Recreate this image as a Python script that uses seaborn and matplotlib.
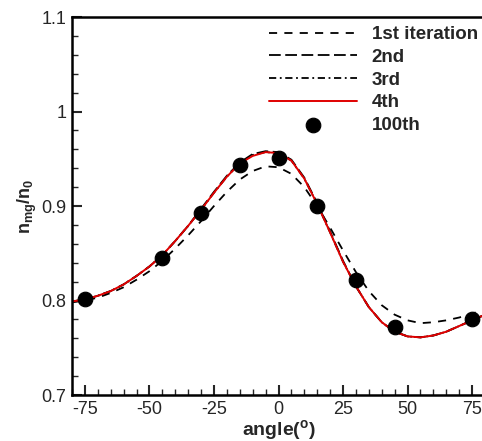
import numpy as np
import pandas as pd
import matplotlib
matplotlib.use("Agg")
import matplotlib.pyplot as plt
from matplotlib.ticker import MultipleLocator
import seaborn as sns

# curve samples, every 5 degrees
angle = [-80, -75, -70, -65, -60, -55, -50, -45, -40, -35, -30, -25, -20, -15, -10, -5,
         0, 5, 10, 15, 20, 25, 30, 35, 40, 45, 50, 55, 60, 65, 70, 75, 80]

iter1 = [0.798, 0.800, 0.803, 0.808, 0.814, 0.822, 0.831, 0.842, 0.855, 0.869, 0.884,
         0.900, 0.915, 0.928, 0.937, 0.942, 0.941, 0.934, 0.920, 0.900, 0.877, 0.853,
         0.830, 0.810, 0.795, 0.785, 0.779, 0.776, 0.777, 0.779, 0.782, 0.786, 0.791]
iter2 = [0.799, 0.801, 0.805, 0.810, 0.817, 0.826, 0.836, 0.848, 0.863, 0.879, 0.897,
         0.915, 0.932, 0.946, 0.955, 0.958, 0.957, 0.949, 0.930, 0.903, 0.873, 0.842,
         0.815, 0.793, 0.777, 0.767, 0.762, 0.761, 0.763, 0.767, 0.773, 0.779, 0.785]
iter3 = [0.799, 0.801, 0.805, 0.810, 0.817, 0.826, 0.836, 0.848, 0.863, 0.879, 0.896,
         0.914, 0.931, 0.945, 0.954, 0.957, 0.956, 0.948, 0.929, 0.902, 0.872, 0.841,
         0.815, 0.793, 0.777, 0.767, 0.762, 0.761, 0.763, 0.767, 0.773, 0.779, 0.785]
iter4 = [0.799, 0.801, 0.805, 0.810, 0.817, 0.826, 0.836, 0.848, 0.863, 0.879, 0.896,
         0.914, 0.931, 0.945, 0.953, 0.957, 0.956, 0.948, 0.929, 0.902, 0.872, 0.841,
         0.815, 0.793, 0.777, 0.767, 0.762, 0.761, 0.763, 0.767, 0.773, 0.779, 0.785]

# 100th iteration points
pt_angle = [-75, -45, -30, -15, 0, 15, 30, 45, 75]
pt_value = [0.802, 0.845, 0.893, 0.943, 0.951, 0.900, 0.822, 0.772, 0.780]

sns.set_style("white")
plt.rcParams['font.family'] = ['Liberation Sans', 'DejaVu Sans']
plt.rcParams['mathtext.fontset'] = 'custom'
plt.rcParams['mathtext.rm'] = 'Liberation Sans'
plt.rcParams['mathtext.bf'] = 'Liberation Sans:bold'
plt.rcParams['axes.unicode_minus'] = False

fig = plt.figure(figsize=(4.82, 4.41), dpi=100)
ax = fig.add_axes([72 / 482, 46 / 441, 413 / 482, 378 / 441])

df = pd.DataFrame({'angle': angle, 'i1': iter1, 'i2': iter2, 'i3': iter3, 'i4': iter4})
sns.lineplot(data=df, x='angle', y='i1', ax=ax, color='black', lw=1.3,
             linestyle=(0, (4.5, 4)), label='1st iteration')
sns.lineplot(data=df, x='angle', y='i2', ax=ax, color='black', lw=1.3,
             linestyle=(0, (6.5, 2.5)), label='2nd')
sns.lineplot(data=df, x='angle', y='i3', ax=ax, color='black', lw=1.3,
             linestyle=(0, (4, 2, 1, 2)), label='3rd')
sns.lineplot(data=df, x='angle', y='i4', ax=ax, color='#e00000', lw=1.4, label='4th')
sns.scatterplot(x=pt_angle, y=pt_value, ax=ax, color='black', s=110,
                edgecolor='black', zorder=5, label='100th')

ax.set_xlim(-80, 80)
ax.set_ylim(0.7, 1.1)
ax.xaxis.set_major_locator(MultipleLocator(25))
ax.xaxis.set_minor_locator(MultipleLocator(5))
ax.yaxis.set_minor_locator(MultipleLocator(0.02))
ax.set_yticks([0.7, 0.8, 0.9, 1.0, 1.1])
ax.set_yticklabels(['0.7', '0.8', '0.9', '1', '1.1'])
ax.tick_params(which='major', direction='in', length=7, width=1.5, labelsize=13,
               bottom=True, left=True, top=False, right=False, pad=4)
ax.tick_params(which='minor', direction='in', length=4, width=1,
               bottom=True, left=True, top=False, right=False)
for s in ax.spines.values():
    s.set_linewidth(1.8)
    s.set_color('black')

ax.set_xlabel(r'angle($\mathbf{^o}$)', fontsize=14, fontweight='bold', labelpad=0)
ax.set_ylabel(r'$\mathbf{n_{mg}/n_0}$', fontsize=13, labelpad=2)

ax.legend(loc='upper right', bbox_to_anchor=(1.01, 1.006), frameon=False,
          prop={'weight': 'bold', 'size': 13.5}, handlelength=4.7, handletextpad=0.8,
          labelspacing=0.3, borderaxespad=0.2)

fig.savefig('out.png', dpi=100)
